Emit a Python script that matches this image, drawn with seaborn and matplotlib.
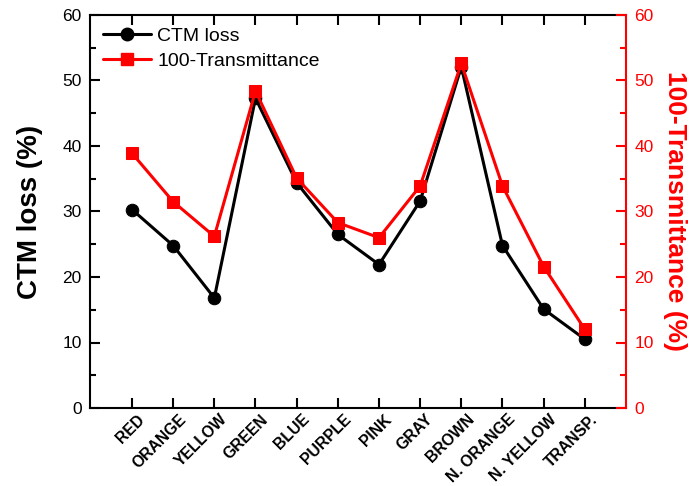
import matplotlib
matplotlib.use("Agg")
import matplotlib.pyplot as plt
import matplotlib.transforms as mtransforms
import seaborn as sns
import pandas as pd
from matplotlib.ticker import MultipleLocator
from matplotlib.lines import Line2D

categories = ["RED", "ORANGE", "YELLOW", "GREEN", "BLUE", "PURPLE", "PINK",
              "GRAY", "BROWN", "N. ORANGE", "N. YELLOW", "TRANSP."]
ctm_loss = [30.3, 24.8, 16.8, 47.3, 34.4, 26.5, 21.9, 31.6, 52.1, 24.8, 15.1, 10.5]
transmit = [38.9, 31.5, 26.2, 48.4, 35.1, 28.3, 26.0, 33.9, 52.6, 33.9, 21.6, 12.0]

sns.set_style("ticks")
plt.rcParams['font.family'] = ['Liberation Sans', 'DejaVu Sans']
plt.rcParams['xtick.direction'] = 'in'
plt.rcParams['ytick.direction'] = 'in'
for k in ['text.color', 'axes.labelcolor', 'xtick.color', 'ytick.color',
          'axes.edgecolor']:
    plt.rcParams[k] = 'black'

df = pd.DataFrame({"cat": categories, "ctm": ctm_loss, "tr": transmit})
df["x"] = range(len(categories))

fig = plt.figure(figsize=(6.93, 4.86), dpi=100)
ax = fig.add_axes([90/693, 1-408/486, (626-90)/693, (408-15)/486])

sns.lineplot(data=df, x="x", y="ctm", ax=ax, color="black", marker="o",
             markersize=9, linewidth=2.2, markeredgecolor="black", sort=False)
ax2 = ax.twinx()
sns.lineplot(data=df, x="x", y="tr", ax=ax2, color="red", marker="s",
             markersize=8.5, linewidth=2.2, markeredgecolor="red", sort=False)

for a in (ax, ax2):
    a.set_ylim(0, 60)
    a.set_xlim(-1.02, 12.0)
    a.yaxis.set_major_locator(MultipleLocator(10))
    a.yaxis.set_minor_locator(MultipleLocator(5))

ax.set_xticks(df["x"])
ax.set_xticklabels([""] * len(categories))
shift = mtransforms.ScaledTranslation(10.5/100, -9/100, fig.dpi_scale_trans)
trans = ax.get_xaxis_transform() + shift
for xi, lab in zip(df["x"], categories):
    ax.text(xi, 0, lab, transform=trans, rotation=45, rotation_mode="anchor",
            ha="right", va="center", fontsize=11.3, fontweight="bold",
            color="black")

ax.tick_params(axis="x", which="major", length=7, width=1.5, top=True,
               colors="black")
ax.tick_params(axis="y", which="major", length=7, width=1.5, labelsize=12.5,
               colors="black", pad=6)
ax.tick_params(axis="y", which="minor", length=4, width=1.5, colors="black")
ax.set_xlabel("")
ax.set_ylabel("CTM loss (%)", fontsize=20, fontweight="bold", labelpad=14,
              color="black")

ax2.tick_params(axis="y", which="major", length=7, width=1.5, labelsize=12.5,
                colors="red", pad=6)
ax2.tick_params(axis="y", which="minor", length=4, width=1.5, colors="red")
ax2.set_ylabel("100-Transmittance (%)", fontsize=19, fontweight="bold",
               color="red", rotation=270, labelpad=24)

for s in ["left", "bottom", "top"]:
    ax.spines[s].set_linewidth(1.5)
    ax.spines[s].set_color("black")
ax.spines["right"].set_visible(False)
ax2.spines["right"].set_color("red")
ax2.spines["right"].set_linewidth(1.5)
for s in ["left", "top", "bottom"]:
    ax2.spines[s].set_visible(False)

handles = [Line2D([], [], color="black", marker="o", markersize=9, linewidth=2.2),
           Line2D([], [], color="red", marker="s", markersize=8.5, linewidth=2.2)]
leg = ax2.legend(handles, ["CTM loss", "100-Transmittance"], loc="upper left",
                 frameon=False, fontsize=14, handlelength=2.5, handletextpad=0.3,
                 borderaxespad=0.25, bbox_to_anchor=(0.0, 1.0), labelspacing=0.35)
for t in leg.get_texts():
    t.set_color("black")

fig.savefig("out.png", dpi=100)
